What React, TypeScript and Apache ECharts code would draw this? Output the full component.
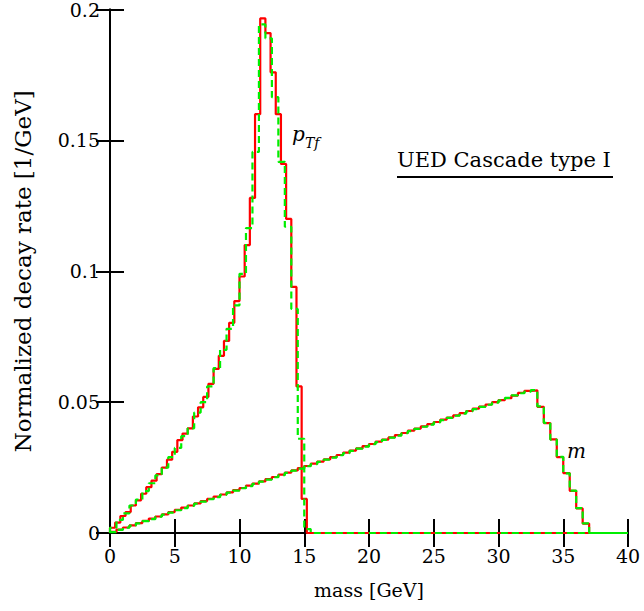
import React, { useEffect, useRef } from "react";
import * as echarts from "echarts";

// p_Tf histogram, red (bin width 0.4 GeV), values per bin from 0
const ptfRedBinWidth = 0.4;
const ptfRed = [
  0.002, 0.004, 0.0065, 0.008, 0.0105, 0.0125, 0.015, 0.0175, 0.02, 0.0225,
  0.025, 0.028, 0.031, 0.0355, 0.038, 0.04, 0.0445, 0.048, 0.052, 0.057,
  0.0627, 0.0677, 0.0734, 0.0803, 0.0886, 0.098, 0.11, 0.128, 0.16, 0.1966,
  0.191, 0.176, 0.16, 0.141, 0.12, 0.094, 0.056, 0.013,
];

// p_Tf histogram, green dashed (bin width 0.5 GeV)
const ptfGreenBinWidth = 0.5;
const ptfGreen = [
  0.002, 0.005, 0.0075, 0.0105, 0.0128, 0.016, 0.019, 0.022, 0.025, 0.029,
  0.0325, 0.037, 0.04, 0.046, 0.05, 0.056, 0.063, 0.07, 0.078, 0.087,
  0.099, 0.1165, 0.1456, 0.1943, 0.189, 0.1665, 0.1418, 0.117, 0.0856, 0.036,
  0.0015,
];

// m histogram (bin width 0.5 GeV)
const mBinWidth = 0.5;
const mRed = [
  0.0004, 0.0013, 0.0021, 0.0029, 0.0038, 0.0046, 0.0055, 0.0063, 0.0071, 0.008,
  0.0088, 0.0097, 0.0105, 0.0113, 0.0122, 0.013, 0.0139, 0.0147, 0.0155, 0.0164,
  0.0172, 0.0181, 0.0189, 0.0197, 0.0206, 0.0214, 0.0223, 0.0231, 0.0239, 0.0248,
  0.0256, 0.0265, 0.0273, 0.0281, 0.029, 0.0298, 0.0307, 0.0315, 0.0323, 0.0332,
  0.034, 0.0349, 0.0357, 0.0365, 0.0374, 0.0382, 0.0391, 0.0399, 0.0407, 0.0416,
  0.0424, 0.0433, 0.0441, 0.0449, 0.0458, 0.0466, 0.0475, 0.0483, 0.0491, 0.05,
  0.0508, 0.0515, 0.0525, 0.0535, 0.0543, 0.0545,
  0.0482, 0.042, 0.0358, 0.029, 0.0229, 0.0161, 0.0094, 0.0036,
];
const mGreen = [
  0.0003, 0.0012, 0.002, 0.0028, 0.0037, 0.0045, 0.0053, 0.0062, 0.007, 0.0078,
  0.0087, 0.0095, 0.0104, 0.0112, 0.012, 0.0129, 0.0137, 0.0146, 0.0154, 0.0162,
  0.0171, 0.0179, 0.0188, 0.0196, 0.0204, 0.0213, 0.0221, 0.023, 0.0238, 0.0246,
  0.0255, 0.0263, 0.0272, 0.028, 0.0288, 0.0297, 0.0305, 0.0314, 0.0322, 0.033,
  0.0339, 0.0347, 0.0356, 0.0364, 0.0372, 0.0381, 0.0389, 0.0398, 0.0406, 0.0414,
  0.0423, 0.0431, 0.044, 0.0448, 0.0456, 0.0465, 0.0473, 0.0482, 0.049, 0.0498,
  0.0507, 0.0516, 0.0526, 0.0534, 0.054, 0.0546,
  0.0484, 0.0421, 0.0357, 0.0291, 0.0228, 0.0162, 0.0095, 0.0037,
];

const xTicks = [0, 5, 10, 15, 20, 25, 30, 35, 40];
const yTicks = [0, 0.05, 0.1, 0.15, 0.2];
const xAxisTitle = "mass [GeV]";
const yAxisTitle = "Normalized decay rate [1/GeV]";
const boxTitle = "UED Cascade type I";

const X_MAX = 40;
const FONT = "DejaVu Serif";

function histPoints(values: number[], width: number): number[][] {
  const pts: number[][] = [[0, 0]];
  values.forEach((v, i) => pts.push([i * width, v]));
  pts.push([values.length * width, 0]);
  pts.push([X_MAX, 0]);
  return pts;
}

export default function App() {
  const ref = useRef<HTMLDivElement>(null);
  useEffect(() => {
    document.body.style.margin = "0";
    if (!ref.current) return;
    const chart = echarts.init(ref.current, undefined, { renderer: "svg" });
    const axisLine = { show: true, lineStyle: { color: "#000", width: 2 } };
    const axisTick = { show: true, inside: true, length: 14, lineStyle: { color: "#000", width: 2 } };
    const labelStyle = { color: "#000", fontFamily: FONT, fontSize: 19 };
    const red = "#ff0000";
    const green = "#00ee00";
    chart.setOption({
      animation: false,
      backgroundColor: "#fff",
      grid: { left: 110, right: 16, top: 7, bottom: 78, containLabel: false },
      xAxis: [
        {
          type: "value", min: xTicks[0], max: xTicks[xTicks.length - 1], interval: 5, position: "bottom",
          axisLine, axisTick, splitLine: { show: false },
          axisLabel: { ...labelStyle, margin: 13 },
          name: xAxisTitle, nameLocation: "middle", nameGap: 47,
          nameTextStyle: { ...labelStyle },
        },
        {
          type: "value", min: xTicks[0], max: xTicks[xTicks.length - 1], interval: 5, position: "top",
          axisLine, axisTick, splitLine: { show: false }, axisLabel: { show: false },
        },
      ],
      yAxis: [
        {
          type: "value", min: yTicks[0], max: yTicks[yTicks.length - 1], interval: 0.05, position: "left",
          axisLine, axisTick, splitLine: { show: false },
          axisLabel: { ...labelStyle, margin: 10 },
          name: yAxisTitle, nameLocation: "middle", nameGap: 76, nameRotate: 90,
          nameTextStyle: { ...labelStyle, fontSize: 23 },
        },
        {
          type: "value", min: yTicks[0], max: yTicks[yTicks.length - 1], interval: 0.05, position: "right",
          axisLine, axisTick, splitLine: { show: false }, axisLabel: { show: false },
        },
      ],
      series: [
        {
          type: "line", step: "end", symbol: "none", xAxisIndex: 0, yAxisIndex: 0,
          data: histPoints(ptfRed, ptfRedBinWidth),
          lineStyle: { color: red, width: 2.2 },
        },
        {
          type: "line", step: "end", symbol: "none", xAxisIndex: 0, yAxisIndex: 0,
          data: histPoints(mRed, mBinWidth),
          lineStyle: { color: red, width: 2.2 },
        },
        {
          type: "line", step: "end", symbol: "none", xAxisIndex: 0, yAxisIndex: 0,
          data: histPoints(ptfGreen, ptfGreenBinWidth),
          lineStyle: { color: green, width: 2.2, type: [7, 4] },
        },
        {
          type: "line", step: "end", symbol: "none", xAxisIndex: 0, yAxisIndex: 0,
          data: histPoints(mGreen, mBinWidth),
          lineStyle: { color: green, width: 2.2, type: [7, 4] },
        },
      ],
      graphic: [
        {
          type: "text", x: 397, y: 149,
          style: { text: boxTitle, fontFamily: FONT, fontSize: 21, fill: "#000", align: "left", verticalAlign: "top" },
        },
        { type: "line", shape: { x1: 397, y1: 177, x2: 613, y2: 177 }, style: { stroke: "#000", lineWidth: 2 } },
        {
          type: "text", x: 292, y: 124,
          style: { text: "p", fontFamily: FONT, fontSize: 20, fontStyle: "italic", fill: "#000", verticalAlign: "top" },
        },
        {
          type: "text", x: 305, y: 136,
          style: { text: "Tf", fontFamily: FONT, fontSize: 14, fontStyle: "italic", fill: "#000", verticalAlign: "top" },
        },
        {
          type: "text", x: 567, y: 441,
          style: { text: "m", fontFamily: FONT, fontSize: 20, fontStyle: "italic", fill: "#000", verticalAlign: "top" },
        },
      ],
    });
    return () => chart.dispose();
  }, []);
  return <div ref={ref} style={{ position: "fixed", left: 0, top: 0, width: 644, height: 611, background: "#fff" }} />;
}
